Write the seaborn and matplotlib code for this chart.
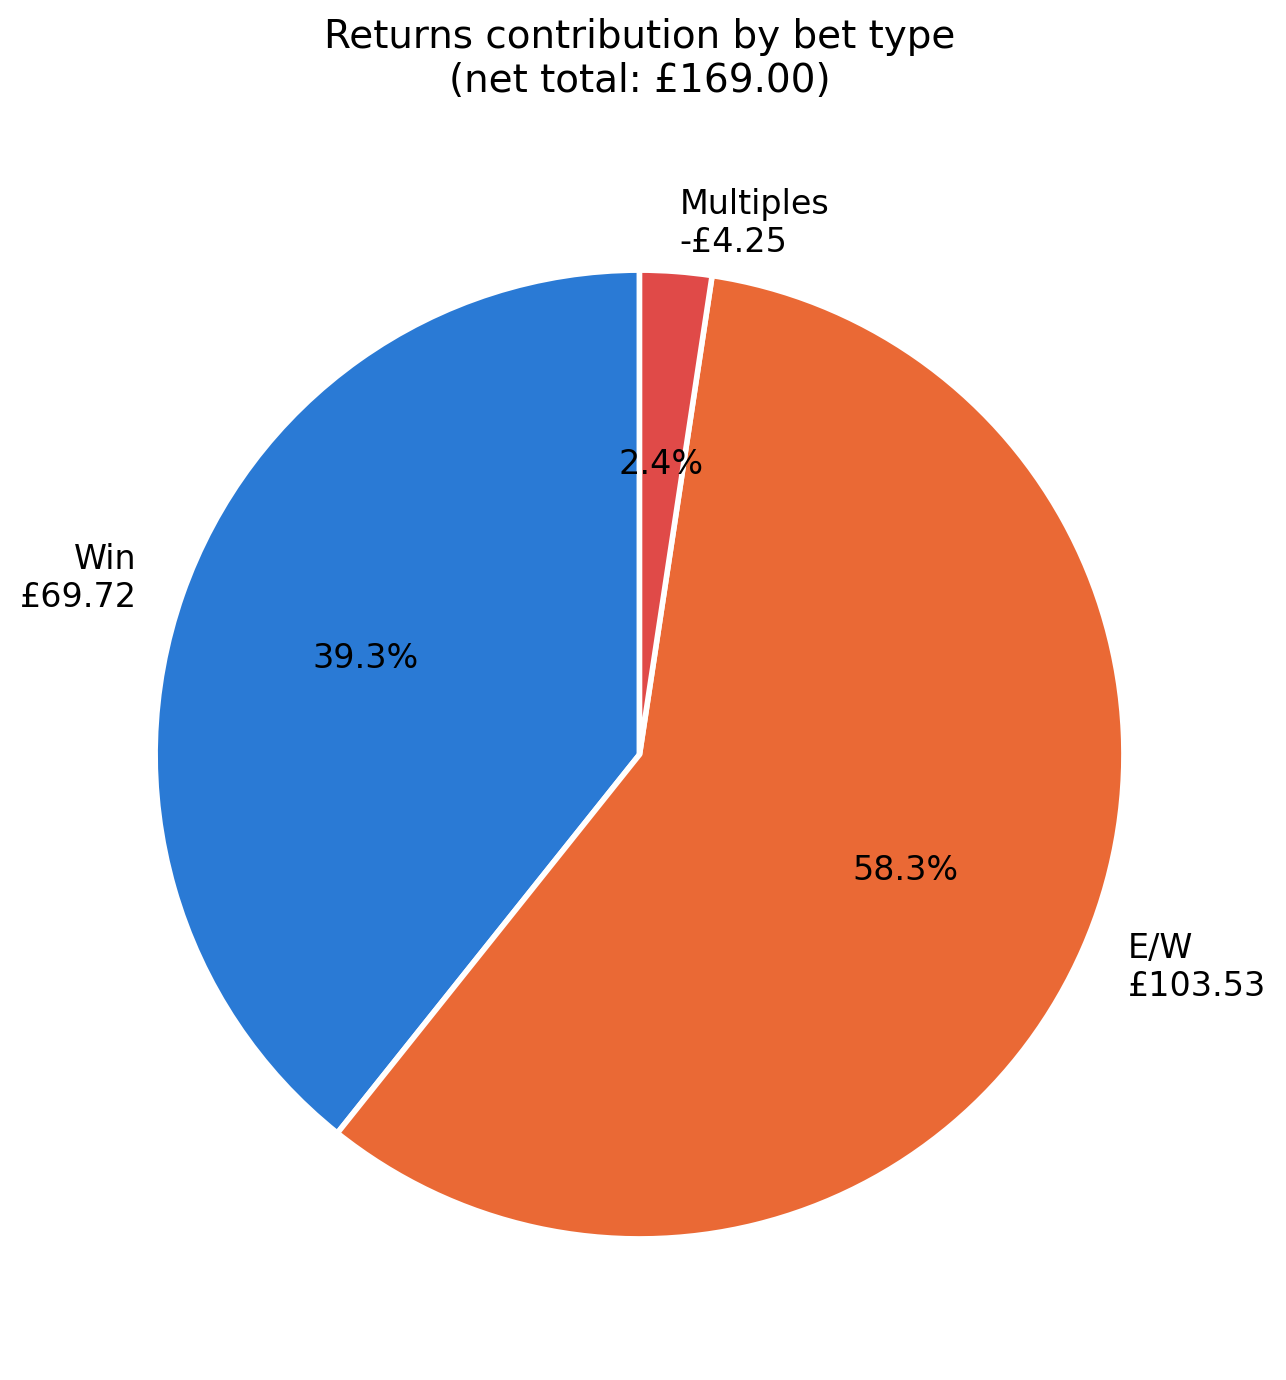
import matplotlib
matplotlib.use("Agg")
import matplotlib.pyplot as plt
import seaborn as sns

sns.set_style("white")
plt.rcParams["font.family"] = ["DejaVu Sans"]
plt.rcParams["text.color"] = "black"

bet_types = ["Win", "E/W", "Multiples"]
net_returns = [69.72, 103.53, -4.25]
colours = ["#2A7AD5", "#EA6935", "#E04A48"]

net_total = sum(net_returns)
sizes = [abs(v) for v in net_returns]
labels = [f"{t}\n{'-' if v < 0 else ''}£{abs(v):.2f}" for t, v in zip(bet_types, net_returns)]

fig = plt.figure(figsize=(6.43, 6.9), dpi=200)
ax = fig.add_axes([0.0263, 0.0145, 0.942, 0.8775])
ax.pie(
    sizes,
    labels=labels,
    colors=colours,
    autopct="%1.1f%%",
    startangle=90,
    counterclock=True,
    wedgeprops={"edgecolor": "white", "linewidth": 2},
    textprops={"fontsize": 12, "color": "black"},
)
ax.set_xlim(-1.25, 1.25)
ax.set_ylim(-1.25, 1.25)
ax.set_aspect("equal")
ax.set_title(f"Returns contribution by bet type\n(net total: £{net_total:.2f})", fontsize=14, color="black", pad=20.5)
fig.savefig("out.png", dpi=200)
